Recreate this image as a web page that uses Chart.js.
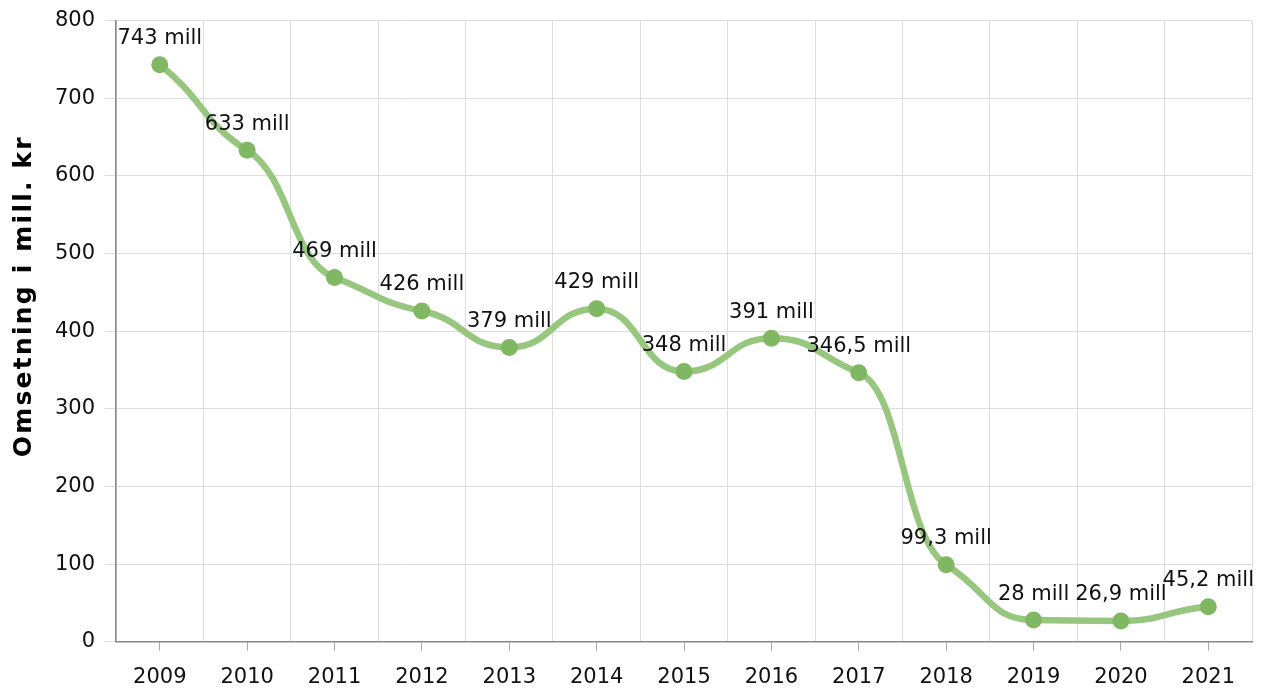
<!DOCTYPE html>
<html>
<head>
<meta charset="utf-8">
<script src="https://cdn.jsdelivr.net/npm/chart.js@4"></script>
<style>
  html, body { margin: 0; padding: 0; background: #fff; }
  #wrap { width: 1267px; height: 692px; }
</style>
</head>
<body>
<div id="wrap"><canvas id="omsetningChart"></canvas></div>
<script>
const years = ['2009', '2010', '2011', '2012', '2013', '2014', '2015', '2016', '2017', '2018', '2019', '2020', '2021'];
const omsetning = [743, 633, 469, 426, 379, 429, 348, 391, 346.5, 99.3, 28, 26.9, 45.2];
const pointLabels = ['743 mill', '633 mill', '469 mill', '426 mill', '379 mill', '429 mill', '348 mill', '391 mill', '346,5 mill', '99,3 mill', '28 mill', '26,9 mill', '45,2 mill'];
const yTicks = [0, 100, 200, 300, 400, 500, 600, 700, 800];
const yTitle = 'Omsetning i mill. kr';

const FONT = '"DejaVu Sans", Verdana, sans-serif';

// glattere kurve: flate tangenter, kontrollpunkt midt mellom punktene
const smoothPlugin = {
  id: 'smoothCurve',
  beforeDatasetDraw(chart, args) {
    const meta = args.meta;
    const pts = meta.data;
    const n = pts.length;
    if (n < 2) return;
    const h = [], s = [];
    for (let i = 0; i < n - 1; i++) {
      h[i] = pts[i + 1].x - pts[i].x;
      s[i] = (pts[i + 1].y - pts[i].y) / h[i];
    }
    const m = [];
    m[0] = 0.8 * s[0];
    m[n - 1] = 0.5 * s[n - 2];
    for (let i = 1; i < n - 1; i++) {
      const s0 = s[i - 1], s1 = s[i];
      if (s0 * s1 <= 0) { m[i] = 0; continue; }
      const p = (s0 * h[i] + s1 * h[i - 1]) / (h[i - 1] + h[i]);
      m[i] = Math.sign(s0) * Math.min(Math.abs(s0), Math.abs(s1), 0.5 * Math.abs(p));
    }
    const k = 0.5;
    pts.forEach((pt, i) => {
      if (i > 0) {
        pt.cp1x = pt.x - k * h[i - 1];
        pt.cp1y = pt.y - k * h[i - 1] * m[i];
      }
      if (i < n - 1) {
        pt.cp2x = pt.x + k * h[i];
        pt.cp2y = pt.y + k * h[i] * m[i];
      }
    });
    meta.dataset._pointsUpdated = true;
    delete meta.dataset._path;
  }
};

// etiketter over punktene + y-tittel
const labelPlugin = {
  id: 'pointLabels',
  afterDatasetsDraw(chart) {
    const ctx = chart.ctx;
    const meta = chart.getDatasetMeta(0);
    ctx.save();
    ctx.font = '21px ' + FONT;
    ctx.fillStyle = '#111';
    ctx.textAlign = 'center';
    ctx.textBaseline = 'middle';
    meta.data.forEach((pt, i) => {
      ctx.fillText(pointLabels[i], pt.x, pt.y - 26);
    });
    ctx.restore();

    const area = chart.chartArea;
    ctx.save();
    ctx.translate(24, (area.top + area.bottom) / 2 - 35);
    ctx.rotate(-Math.PI / 2);
    ctx.font = 'bold 25px ' + FONT;
    ctx.letterSpacing = '2.2px';
    ctx.fillStyle = '#000';
    ctx.textAlign = 'center';
    ctx.textBaseline = 'middle';
    ctx.fillText(yTitle, 0, 0);
    ctx.restore();
  }
};

const ctx = document.getElementById('omsetningChart').getContext('2d');
new Chart(ctx, {
  type: 'line',
  data: {
    labels: years,
    datasets: [{
      label: 'Omsetning',
      data: omsetning,
      borderColor: '#97c67e',
      borderWidth: 6.5,
      cubicInterpolationMode: 'monotone',
      pointRadius: 8.5,
      pointBackgroundColor: '#80b763',
      pointBorderWidth: 0,
      fill: false,
    }]
  },
  options: {
    responsive: true,
    maintainAspectRatio: false,
    animation: false,
    layout: { padding: { top: -1, right: 15, left: 45, bottom: -12 } },
    plugins: {
      legend: { display: false },
      tooltip: { enabled: false },
    },
    scales: {
      x: {
        offset: true,
        grid: {
          offset: false,
          drawOnChartArea: false,
          tickLength: 9,
          tickColor: '#aaa',
        },
        border: { color: '#888', width: 1.5 },
        ticks: {
          color: '#111',
          font: { family: FONT, size: 21 },
          padding: 14,
          maxRotation: 0,
        },
      },
      x2: {
        offset: true,
        position: 'bottom',
        grid: {
          offset: true,
          drawTicks: false,
          color: '#ddd',
        },
        border: { display: false },
        ticks: { display: false },
        afterFit: (scale) => { scale.height = 0; },
      },
      y: {
        min: 0,
        max: 800,
        afterBuildTicks: (scale) => { scale.ticks = yTicks.map(v => ({ value: v })); },
        grid: {
          color: '#ddd',
          tickColor: '#ddd',
          tickLength: 11,
        },
        border: { color: '#888', width: 1.5 },
        ticks: {
          color: '#111',
          font: { family: FONT, size: 21, lineHeight: 1 },
          padding: 10,
        },
      },
    },
  },
  plugins: [smoothPlugin, labelPlugin],
});
</script>
</body>
</html>
